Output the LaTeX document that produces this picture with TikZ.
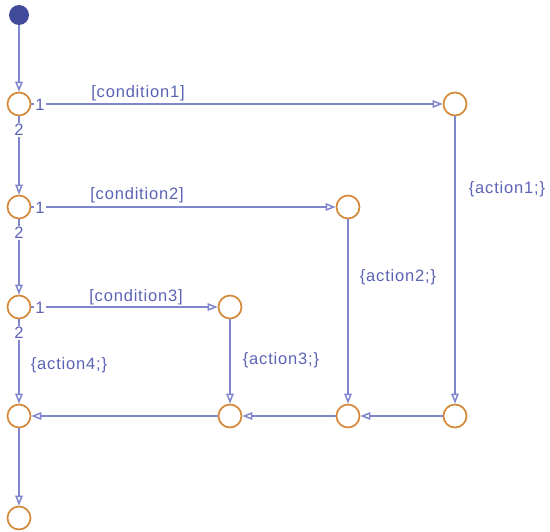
\documentclass[tikz,border=0pt]{standalone}
\usepackage{fontspec}
\setmainfont{Liberation Sans}[LetterSpace=5]
\usetikzlibrary{arrows.meta}
\definecolor{lineC}{HTML}{7F86CE}
\definecolor{textC}{HTML}{5B63B5}
\definecolor{juncC}{HTML}{D4893A}
\definecolor{dotC}{HTML}{3F4A9A}
\begin{document}
\begin{tikzpicture}[x=1pt,y=-1pt,
  junc/.style={circle,draw=juncC,line width=1.7pt,fill=white,minimum size=23pt,inner sep=0pt},
  trans/.style={draw=lineC,line width=2.5pt,-{Triangle[open,length=10pt,width=7.5pt,line width=1.5pt]}},
  lbl/.style={text=textC,font=\fontsize{16.5}{18}\selectfont,inner sep=1pt},
  num/.style={text=textC,font=\fontsize{16.5}{18}\selectfont,fill=white,inner sep=1pt}]
\useasboundingbox (0,0) rectangle (550,532);
\node[circle,fill=dotC,minimum size=20pt,inner sep=0pt] (s) at (19,15) {};
\node[junc] (a1) at (19,104) {};
\node[junc] (b1) at (455,104) {};
\node[junc] (a2) at (19,207) {};
\node[junc] (b2) at (348,207) {};
\node[junc] (a3) at (19,307) {};
\node[junc] (b3) at (230,307) {};
\node[junc] (d1) at (19,416) {};
\node[junc] (d2) at (230,416) {};
\node[junc] (d3) at (348,416) {};
\node[junc] (d4) at (455,416) {};
\node[junc] (e) at (19,518) {};
\draw[trans] (s) -- (a1);
\draw[trans] (a1) -- (b1);
\draw[trans] (a2) -- (b2);
\draw[trans] (a3) -- (b3);
\draw[trans] (a1) -- (a2);
\draw[trans] (a2) -- (a3);
\draw[trans] (a3) -- (d1);
\draw[trans] (b1) -- (d4);
\draw[trans] (b2) -- (d3);
\draw[trans] (b3) -- (d2);
\draw[trans] (d4) -- (d3);
\draw[trans] (d3) -- (d2);
\draw[trans] (d2) -- (d1);
\draw[trans] (d1) -- (e);
\node[num] (n11) at (40,105) {1};
\node[num] (n12) at (19,130) {2};
\node[num] (n21) at (40,208) {1};
\node[num] (n22) at (19,233) {2};
\node[num] (n31) at (40,308) {1};
\node[num] (n32) at (19,333) {2};
\node[lbl] (c1) at (138,93) {[condition1]};
\node[lbl] (c2) at (137,195) {[condition2]};
\node[lbl] (c3) at (136,297) {[condition3]};
\node[lbl] (x1) at (507,189) {\{action1;\}};
\node[lbl] (x2) at (398,277) {\{action2;\}};
\node[lbl] (x3) at (281,360) {\{action3;\}};
\node[lbl] (x4) at (69,365) {\{action4;\}};
\end{tikzpicture}
\end{document}
